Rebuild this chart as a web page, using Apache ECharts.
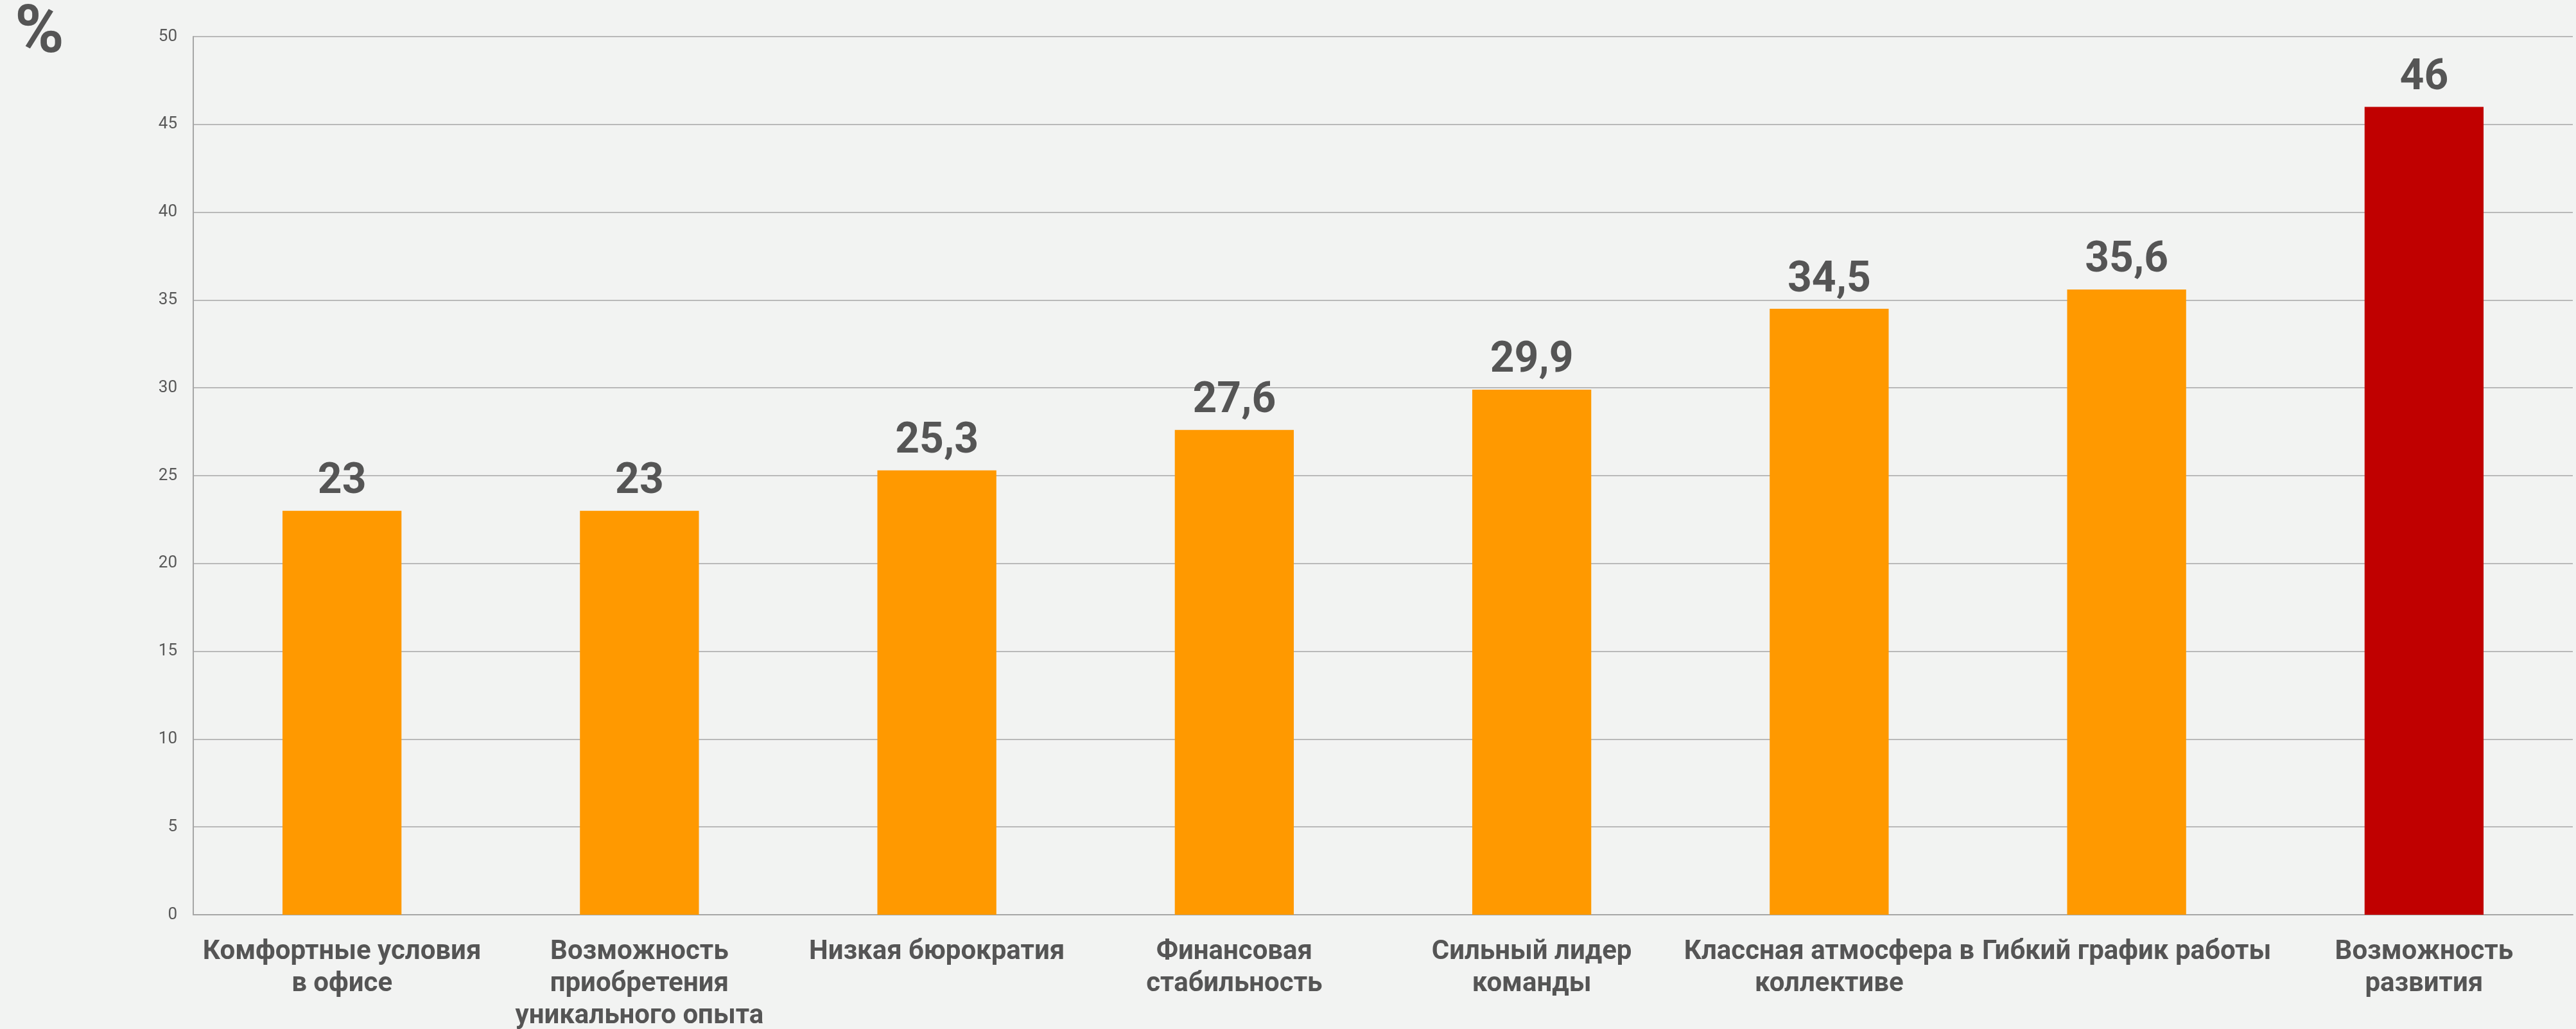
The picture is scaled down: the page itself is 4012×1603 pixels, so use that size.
<!DOCTYPE html>
<html>
<head>
<meta charset="utf-8">
<style>
html,body{margin:0;padding:0;background:#F2F3F2;}
#chart{width:4012px;height:1603px;}
</style>
<script src="https://cdn.jsdelivr.net/npm/echarts@6/dist/echarts.min.js"></script>
</head>
<body>
<div id="chart"></div>
<script>
const categories = [
  'Комфортные условия в офисе',
  'Возможность приобретения уникального опыта',
  'Низкая бюрократия',
  'Финансовая стабильность',
  'Сильный лидер команды',
  'Классная атмосфера в коллективе',
  'Гибкий график работы',
  'Возможность развития'
];
const values = [23, 23, 25.3, 27.6, 29.9, 34.5, 35.6, 46];
const highlightIndex = 7;
const yTicks = { min: 0, max: 50, interval: 5 };

const LABEL_FONT = 'bold 42px Roboto';
const LABEL_MAX_W = 457;
const measureCtx = document.createElement('canvas').getContext('2d');
function wrapLabel(text) {
  measureCtx.font = LABEL_FONT;
  const words = text.split(' ');
  const lines = [];
  let cur = '';
  words.forEach(w => {
    const trial = cur ? cur + ' ' + w : w;
    if (cur && measureCtx.measureText(trial).width > LABEL_MAX_W) {
      lines.push(cur);
      cur = w;
    } else {
      cur = trial;
    }
  });
  if (cur) lines.push(cur);
  return lines.join('\n');
}

const chart = echarts.init(document.getElementById('chart'), null, { renderer: 'canvas' });
chart.setOption({
  backgroundColor: '#F2F3F2',
  animation: false,
  title: {
    text: '%',
    left: 18,
    top: -2,
    textStyle: { fontFamily: 'Roboto', fontWeight: 'bold', fontSize: 104, color: '#555555' }
  },
  grid: { left: 301, right: 5, top: 57, bottom: 178, containLabel: false, outerBoundsMode: 'none' },
  xAxis: {
    type: 'category',
    data: categories,
    axisLine: { show: true, lineStyle: { color: '#a6a6a6', width: 2 } },
    axisTick: { show: false },
    axisLabel: {
      interval: 0,
      margin: 33,
      hideOverlap: false,
      fontFamily: 'Roboto',
      fontWeight: 'bold',
      fontSize: 42,
      lineHeight: 50,
      color: '#555555',
      formatter: v => wrapLabel(v)
    }
  },
  yAxis: {
    type: 'value',
    min: yTicks.min,
    max: yTicks.max,
    interval: yTicks.interval,
    axisLine: { show: true, lineStyle: { color: '#a6a6a6', width: 2 } },
    axisTick: { show: false },
    axisLabel: { margin: 25, fontFamily: 'Roboto', fontSize: 26, color: '#595959' },
    splitLine: { show: true, lineStyle: { color: '#a6a6a6', width: 1.5 } }
  },
  series: [{
    type: 'bar',
    barWidth: '40%',
    data: values.map((v, i) => ({
      value: v,
      itemStyle: { color: i === highlightIndex ? '#C00000' : '#FF9900' }
    })),
    label: {
      show: true,
      position: 'top',
      distance: 11,
      fontFamily: 'Roboto',
      fontWeight: 'bold',
      fontSize: 66,
      color: '#555555',
      formatter: p => String(p.value).replace('.', ',')
    }
  }]
});
</script>
</body>
</html>
